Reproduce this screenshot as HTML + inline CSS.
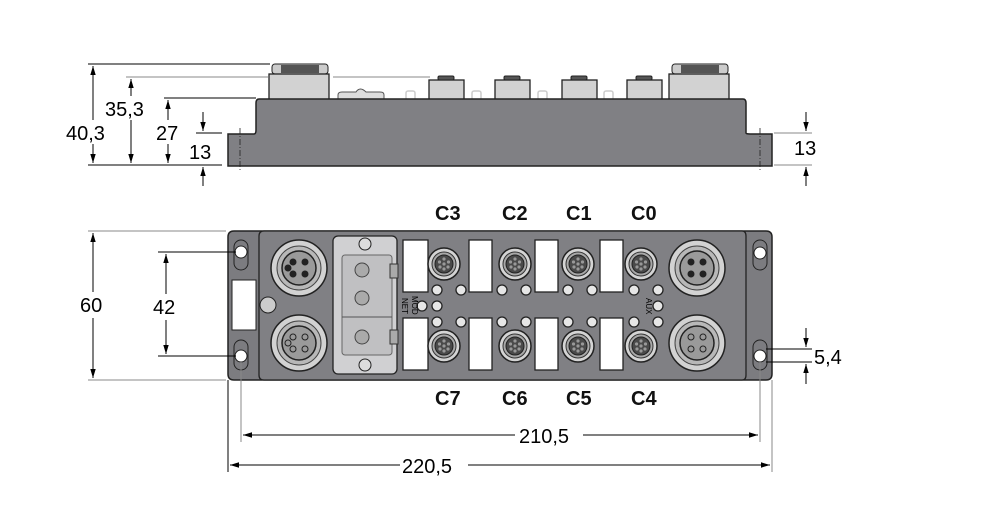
<!DOCTYPE html>
<html><head><meta charset="utf-8"><style>
html,body{margin:0;padding:0;background:#fff;}
svg{display:block;font-family:"Liberation Sans",sans-serif;}
</style></head><body>
<svg width="996" height="511" viewBox="0 0 996 511" xmlns="http://www.w3.org/2000/svg">
<defs>
<marker id="a" viewBox="0 0 10 10" refX="10" refY="5" markerWidth="9" markerHeight="9" orient="auto-start-reverse" markerUnits="userSpaceOnUse"><path d="M0,2 L10,5 L0,8 z" fill="#000"/></marker>
<g id="m8">
<circle r="16" fill="#d4d4d4" stroke="#222" stroke-width="1.5"/>
<circle r="12" fill="#a8a8a8" stroke="#333" stroke-width="1"/>
<circle r="9" fill="#4a4a4a" stroke="#222"/>
<circle cx="0" cy="-5" r="1.6" fill="#999"/><circle cx="4.5" cy="-2" r="1.6" fill="#999"/><circle cx="4" cy="3" r="1.6" fill="#999"/><circle cx="0" cy="5" r="1.6" fill="#999"/><circle cx="-4" cy="3" r="1.6" fill="#999"/><circle cx="-4.5" cy="-2" r="1.6" fill="#999"/><circle r="1.6" fill="#999"/>
</g>
<g id="led"><circle r="5" fill="#e6e6e6" stroke="#222" stroke-width="1.3"/></g>
<g id="m12a">
<circle r="28" fill="#d2d2d2" stroke="#222" stroke-width="1.5"/>
<circle r="22" fill="#b8b8b8" stroke="#444"/>
<circle r="17" fill="#9a9a9a" stroke="#222" stroke-width="1.5"/>
</g>
</defs>

<!-- SIDE VIEW -->
<rect x="272" y="64" width="56" height="10" rx="3" fill="#ccc" stroke="#222"/>
<rect x="281" y="65" width="38" height="8" fill="#555"/>
<rect x="269" y="74" width="60" height="26" fill="#d2d2d2" stroke="#222" stroke-width="1.3"/>
<rect x="672" y="64" width="56" height="10" rx="3" fill="#ccc" stroke="#222"/>
<rect x="681" y="65" width="38" height="8" fill="#555"/>
<rect x="669" y="74" width="60" height="26" fill="#d2d2d2" stroke="#222" stroke-width="1.3"/>
<g fill="#d2d2d2" stroke="#222" stroke-width="1.3">
<rect x="429" y="80" width="35" height="20"/><rect x="495" y="80" width="35" height="20"/><rect x="562" y="80" width="35" height="20"/><rect x="627" y="80" width="35" height="20"/>
</g>
<g fill="#555" stroke="#222"><rect x="438" y="76" width="16" height="4" rx="1.5"/><rect x="504" y="76" width="16" height="4" rx="1.5"/><rect x="571" y="76" width="16" height="4" rx="1.5"/><rect x="636" y="76" width="16" height="4" rx="1.5"/></g>
<g fill="none" stroke="#ccc" stroke-width="1.5"><rect x="406" y="91" width="9" height="9" rx="2"/><rect x="472" y="91" width="9" height="9" rx="2"/><rect x="538" y="91" width="9" height="9" rx="2"/><rect x="604" y="91" width="9" height="9" rx="2"/></g>
<path d="M338,100 v-5 q0,-3 4,-3 h14 q4,-6 10,0 h14 q4,0 4,3 v5" fill="#ddd" stroke="#555"/>
<path d="M259,99 H743 Q746,99 746,103 V133 Q746,134 750,134 H772 V166 H228 V134 H254 Q256,134 256,130 V103 Q256,99 259,99 Z" fill="#808084" stroke="#222" stroke-width="1.5"/>
<g stroke="#222" stroke-dasharray="6,2,1,2" stroke-width="0.8"><line x1="240" y1="128" x2="240" y2="170"/><line x1="760" y1="128" x2="760" y2="170"/></g>

<!-- side dims -->
<g stroke="#000" stroke-width="1" fill="none">
<line x1="88" y1="64" x2="270" y2="64"/>
<line x1="126" y1="77" x2="268" y2="77" stroke="#888"/>
<line x1="333" y1="77" x2="430" y2="77" stroke="#888"/>
<line x1="164" y1="98" x2="256" y2="98"/>
<line x1="196" y1="133" x2="222" y2="133"/>
<line x1="88" y1="165" x2="222" y2="165"/>
<line x1="93" y1="66" x2="93" y2="163" marker-start="url(#a)" marker-end="url(#a)"/>
<line x1="131" y1="79" x2="131" y2="163" marker-start="url(#a)" marker-end="url(#a)"/>
<line x1="168" y1="100" x2="168" y2="163" marker-start="url(#a)" marker-end="url(#a)"/>
<line x1="203" y1="112" x2="203" y2="131" marker-end="url(#a)"/>
<line x1="203" y1="186" x2="203" y2="167" marker-end="url(#a)"/>
<line x1="774" y1="133" x2="812" y2="133" stroke="#888"/>
<line x1="774" y1="165" x2="812" y2="165" stroke="#888"/>
<line x1="806" y1="112" x2="806" y2="131" marker-end="url(#a)"/>
<line x1="806" y1="186" x2="806" y2="167" marker-end="url(#a)"/>
</g>
<g font-size="20" fill="#000">
<rect x="66" y="120" width="50" height="24" fill="#fff"/>
<text x="66" y="140">40,3</text>
<rect x="104" y="96" width="50" height="24" fill="#fff"/>
<text x="105" y="116">35,3</text>
<rect x="154" y="120" width="28" height="24" fill="#fff"/>
<text x="156" y="140">27</text>
<text x="189" y="159">13</text>
<text x="794" y="155">13</text>
</g>

<!-- TOP VIEW -->
<path d="M234,231 H766 Q772,231 772,237 V374 Q772,380 766,380 H234 Q228,380 228,374 V237 Q228,231 234,231 Z" fill="#7c7c80" stroke="#222" stroke-width="1.5"/>
<path d="M264,231 H742 Q746,231 746,236 V375 Q746,380 742,380 H264 Q259,380 259,375 V236 Q259,231 264,231 Z" fill="#808084" stroke="#222" stroke-width="1.3"/>
<rect x="234" y="240" width="14" height="30" rx="7" fill="#7c7c80" stroke="#222"/>
<circle cx="241" cy="252" r="6" fill="#fff" stroke="#222"/>
<rect x="234" y="340" width="14" height="30" rx="7" fill="#7c7c80" stroke="#222"/>
<circle cx="241" cy="356" r="6" fill="#fff" stroke="#222"/>
<rect x="232" y="280" width="24" height="50" fill="#fff" stroke="#222"/>
<circle cx="268" cy="305" r="8" fill="#ccc" stroke="#222"/>
<rect x="753" y="240" width="14" height="30" rx="7" fill="#7c7c80" stroke="#222"/>
<circle cx="760" cy="253" r="6" fill="#fff" stroke="#222"/>
<rect x="753" y="340" width="14" height="30" rx="7" fill="#7c7c80" stroke="#222"/>
<circle cx="760" cy="356" r="6" fill="#fff" stroke="#222"/>

<!-- M12 -->
<use href="#m12a" x="299" y="268"/>
<g fill="#222"><circle cx="293" cy="262" r="3.5"/><circle cx="305" cy="262" r="3.5"/><circle cx="293" cy="274" r="3.5"/><circle cx="305" cy="274" r="3.5"/><circle cx="288" cy="268" r="3.5"/></g>
<use href="#m12a" x="299" y="343"/>
<g fill="none" stroke="#222"><circle cx="293" cy="337" r="3"/><circle cx="305" cy="337" r="3"/><circle cx="293" cy="349" r="3"/><circle cx="305" cy="349" r="3"/><circle cx="288" cy="343" r="3"/></g>
<use href="#m12a" x="697" y="268"/>
<g fill="#222"><circle cx="691" cy="262" r="3.5"/><circle cx="703" cy="262" r="3.5"/><circle cx="691" cy="274" r="3.5"/><circle cx="703" cy="274" r="3.5"/></g>
<use href="#m12a" x="697" y="343"/>
<g fill="none" stroke="#222"><circle cx="691" cy="337" r="3"/><circle cx="703" cy="337" r="3"/><circle cx="691" cy="349" r="3"/><circle cx="703" cy="349" r="3"/></g>

<!-- label panel -->
<rect x="333" y="236" width="64" height="138" rx="5" fill="#d0d0d2" stroke="#222" stroke-width="1.3"/>
<rect x="342" y="255" width="50" height="100" rx="3" fill="#c0c0c2" stroke="#666"/>
<circle cx="365" cy="244" r="6" fill="#ddd" stroke="#222"/>
<circle cx="365" cy="365" r="6" fill="#ddd" stroke="#222"/>
<circle cx="362" cy="270" r="7" fill="#aaa" stroke="#444"/>
<circle cx="362" cy="298" r="7" fill="#aaa" stroke="#444"/>
<circle cx="362" cy="337" r="7" fill="#aaa" stroke="#444"/>
<line x1="342" y1="317" x2="392" y2="317" stroke="#555"/>
<rect x="390" y="264" width="8" height="14" fill="#aaa" stroke="#333"/>
<rect x="390" y="330" width="8" height="14" fill="#aaa" stroke="#333"/>

<g fill="#fff" stroke="#222" stroke-width="1.3">
<rect x="403" y="240" width="25" height="52"/><rect x="403" y="318" width="25" height="52"/>
<rect x="469" y="240" width="23" height="52"/><rect x="469" y="318" width="23" height="52"/>
<rect x="535" y="240" width="23" height="52"/><rect x="535" y="318" width="23" height="52"/>
<rect x="600" y="240" width="23" height="52"/><rect x="600" y="318" width="23" height="52"/>
</g>
<use href="#m8" x="444" y="264"/><use href="#m8" x="515" y="264"/><use href="#m8" x="578" y="264"/><use href="#m8" x="641" y="264"/>
<use href="#m8" x="444" y="346"/><use href="#m8" x="515" y="346"/><use href="#m8" x="578" y="346"/><use href="#m8" x="641" y="346"/>
<use href="#led" x="437" y="290"/><use href="#led" x="461" y="290"/><use href="#led" x="437" y="322"/><use href="#led" x="461" y="322"/>
<use href="#led" x="437" y="306"/><use href="#led" x="422" y="306"/>
<use href="#led" x="502" y="290"/><use href="#led" x="526" y="290"/><use href="#led" x="502" y="322"/><use href="#led" x="526" y="322"/>
<use href="#led" x="568" y="290"/><use href="#led" x="592" y="290"/><use href="#led" x="568" y="322"/><use href="#led" x="592" y="322"/>
<use href="#led" x="634" y="290"/><use href="#led" x="658" y="290"/><use href="#led" x="634" y="322"/><use href="#led" x="658" y="322"/>
<use href="#led" x="658" y="306"/>
<text x="0" y="0" font-size="8" transform="translate(402,298) rotate(90)">NET</text>
<text x="0" y="0" font-size="8" transform="translate(412,296) rotate(90)">MOD</text>
<text x="0" y="0" font-size="8" transform="translate(646,298) rotate(90)">AUX</text>

<g font-size="20" font-weight="bold" fill="#111">
<text x="435" y="220">C3</text><text x="502" y="220">C2</text><text x="566" y="220">C1</text><text x="631" y="220">C0</text>
<text x="435" y="405">C7</text><text x="502" y="405">C6</text><text x="566" y="405">C5</text><text x="631" y="405">C4</text>
</g>

<g stroke="#000" stroke-width="1" fill="none">
<line x1="88" y1="231" x2="226" y2="231" stroke="#888"/>
<line x1="88" y1="380" x2="226" y2="380" stroke="#888"/>
<line x1="93" y1="233" x2="93" y2="378" marker-start="url(#a)" marker-end="url(#a)"/>
<line x1="158" y1="252" x2="236" y2="252"/>
<line x1="158" y1="356" x2="236" y2="356"/>
<line x1="166" y1="254" x2="166" y2="354" marker-start="url(#a)" marker-end="url(#a)"/>
<line x1="766" y1="349" x2="812" y2="349"/>
<line x1="766" y1="362" x2="812" y2="362"/>
<line x1="806" y1="328" x2="806" y2="347" marker-end="url(#a)"/>
<line x1="806" y1="384" x2="806" y2="364" marker-end="url(#a)"/>
<line x1="228" y1="380" x2="228" y2="472"/>
<line x1="241" y1="362" x2="241" y2="442" stroke="#888"/>
<line x1="760" y1="362" x2="760" y2="442" stroke="#888"/>
<line x1="772" y1="380" x2="772" y2="472" stroke="#888"/>
<line x1="243" y1="435" x2="758" y2="435" marker-start="url(#a)" marker-end="url(#a)"/>
<line x1="230" y1="465" x2="770" y2="465" marker-start="url(#a)" marker-end="url(#a)"/>
</g>
<g font-size="20" fill="#000">
<rect x="76" y="292" width="34" height="26" fill="#fff"/>
<text x="80" y="312">60</text>
<rect x="150" y="294" width="32" height="26" fill="#fff"/>
<text x="153" y="314">42</text>
<text x="814" y="364">5,4</text>
<rect x="515" y="422" width="68" height="26" fill="#fff"/>
<text x="519" y="443">210,5</text>
<rect x="400" y="452" width="68" height="26" fill="#fff"/>
<text x="402" y="473">220,5</text>
</g>
</svg>
</body></html>
